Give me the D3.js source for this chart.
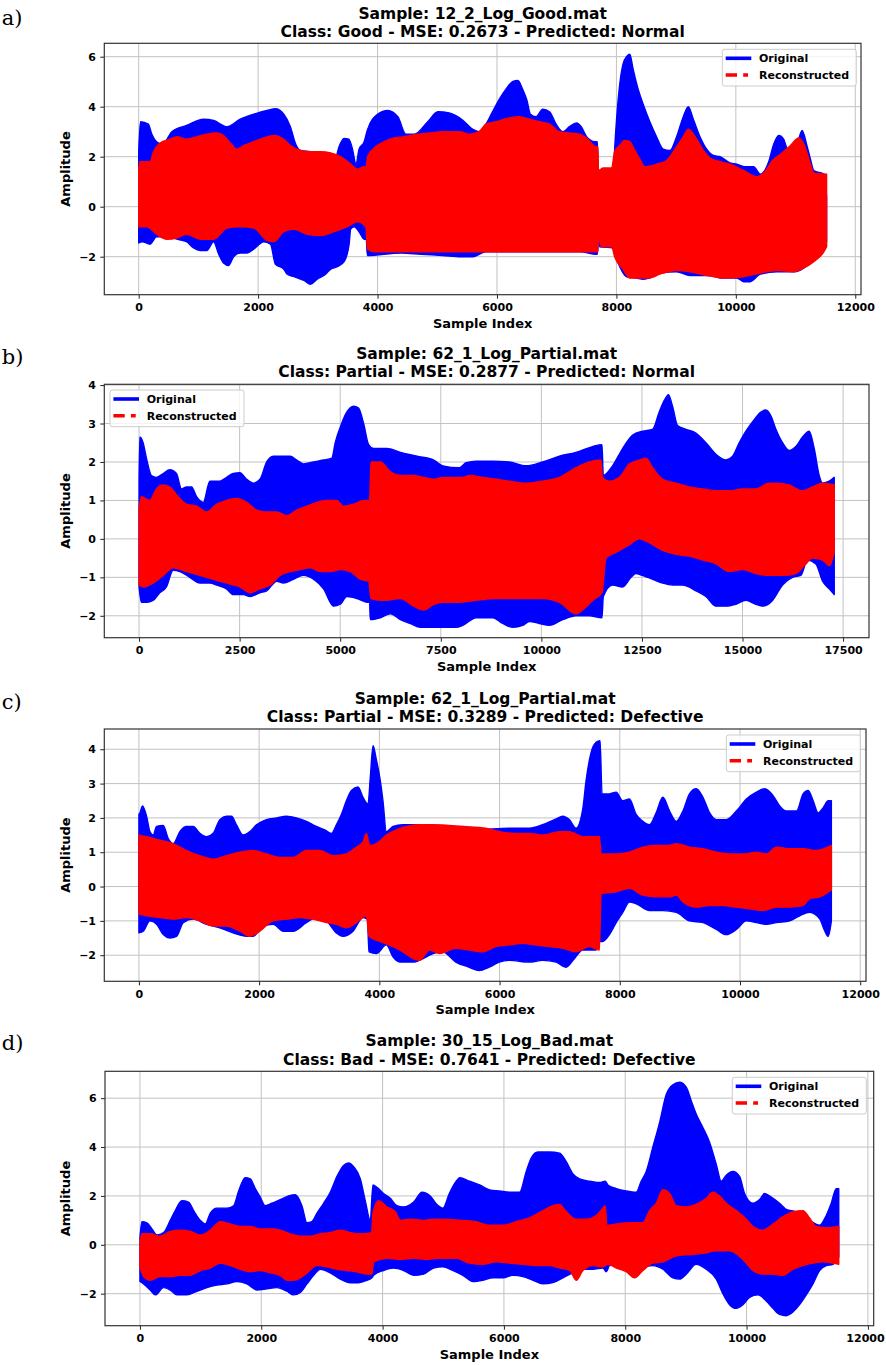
<!DOCTYPE html>
<html><head><meta charset="utf-8">
<script src="https://cdn.jsdelivr.net/npm/d3@7"></script>
<style>body{margin:0;background:#fff} svg text{font-family:'DejaVu Sans',sans-serif}</style>
</head><body><svg id="c" width="886" height="1365"></svg>
<script>
// ---------- DATA (envelopes: [sample index, amplitude]) ----------
const panelLabels = ['a)', 'b)', 'c)', 'd)'];
const titleLine1 = ['Sample: 12_2_Log_Good.mat', 'Sample: 62_1_Log_Partial.mat', 'Sample: 62_1_Log_Partial.mat', 'Sample: 30_15_Log_Bad.mat'];
const titleLine2 = ['Class: Good - MSE: 0.2673 - Predicted: Normal', 'Class: Partial - MSE: 0.2877 - Predicted: Normal', 'Class: Partial - MSE: 0.3289 - Predicted: Defective', 'Class: Bad - MSE: 0.7641 - Predicted: Defective'];
const seriesNames = ['Original', 'Reconstructed'];
const xTicks12k = [0, 2000, 4000, 6000, 8000, 10000, 12000];
const xTicks17k = [0, 2500, 5000, 7500, 10000, 12500, 15000, 17500];
const yTicksEven = [-2, 0, 2, 4, 6];
const yTicksUnit = [-2, -1, 0, 1, 2, 3, 4];

const aOrigHi = [[0,2.2],[30,3.4],[160,3.3],[220,2.9],[300,2.6],[400,2.5],[555,3.0],[800,3.25],[1090,3.5],[1255,3.45],[1480,3.2],[1700,3.5],[1930,3.7],[2150,3.85],[2290,3.92],[2430,3.7],[2540,3.2],[2630,2.5],[2710,2.25],[2900,2.2],[3100,2.15],[3300,2.0],[3355,2.4],[3440,2.73],[3520,2.7],[3580,2.3],[3640,1.7],[3690,2.3],[3776,2.6],[3830,3.07],[4000,3.7],[4170,3.85],[4340,3.6],[4475,2.9],[4616,2.9],[4840,3.4],[5010,3.8],[5200,3.75],[5423,3.47],[5590,3.1],[5700,3.0],[5815,3.3],[5927,3.8],[6040,4.3],[6150,4.7],[6260,5.0],[6350,5.05],[6430,4.7],[6500,4.27],[6560,3.7],[6655,3.6],[6767,3.9],[6880,3.8],[6990,3.3],[7100,3.0],[7215,3.2],[7330,3.35],[7410,3.2],[7500,2.8],[7640,2.6],[7680,2.6],[7700,1.4],[7950,1.45],[7975,2.5],[8056,4.9],[8110,5.7],[8170,6.0],[8224,6.1],[8280,5.5],[8364,4.7],[8448,4.1],[8560,3.4],[8672,2.8],[8784,2.3],[8896,2.25],[9008,2.8],[9120,3.6],[9204,4.0],[9288,3.5],[9400,2.8],[9512,2.3],[9625,2.05],[9737,2.0],[9905,1.75],[10017,1.7],[10157,1.6],[10297,1.6],[10410,1.3],[10550,1.8],[10634,2.5],[10720,2.85],[10800,2.7],[10886,2.2],[11025,2.5],[11110,3.05],[11195,2.4],[11250,1.9],[11305,1.45],[11480,1.3],[11520,0.4]];
const aOrigLo = [[0,-1.45],[60,-1.4],[190,-1.5],[300,-1.2],[527,-1.2],[640,-1.3],[800,-1.4],[920,-1.65],[1030,-1.75],[1140,-1.75],[1255,-1.4],[1340,-1.9],[1420,-2.25],[1507,-2.35],[1590,-2.0],[1700,-1.85],[1815,-1.85],[1927,-1.7],[2095,-1.4],[2207,-1.5],[2290,-2.3],[2430,-2.5],[2487,-2.7],[2600,-2.8],[2767,-2.95],[2880,-3.1],[2990,-2.9],[3130,-2.7],[3215,-2.5],[3327,-2.4],[3440,-2.2],[3524,-1.5],[3550,-0.9],[3608,-0.8],[3690,-1.0],[3776,-1.3],[3810,-1.3],[3830,-1.95],[4390,-1.85],[4727,-1.9],[5087,-1.95],[5400,-2.0],[5600,-2.0],[5815,-1.8],[7400,-1.8],[7660,-1.9],[7680,-1.9],[7700,-1.2],[7720,-1.6],[7945,-1.65],[7990,-2.0],[8056,-2.4],[8170,-2.8],[8335,-2.85],[8448,-2.9],[8560,-2.85],[8728,-2.65],[9008,-2.6],[9232,-2.75],[9568,-2.75],[9737,-2.85],[10017,-2.85],[10130,-3.0],[10240,-3.0],[10410,-2.7],[10690,-2.6],[10970,-2.6],[11140,-2.45],[11250,-2.2],[11420,-1.9],[11520,-1.4]];
const aRecHi = [[0,1.5],[20,1.8],[190,1.8],[246,2.2],[358,2.55],[527,2.7],[640,2.8],[800,2.7],[975,2.8],[1140,2.9],[1310,2.95],[1420,2.85],[1535,2.55],[1647,2.3],[1760,2.45],[1927,2.6],[2095,2.75],[2263,2.85],[2430,2.7],[2543,2.45],[2711,2.25],[2880,2.2],[3047,2.2],[3215,2.15],[3383,2.0],[3552,1.7],[3664,1.5],[3776,1.6],[3810,1.6],[3832,2.0],[3944,2.35],[4112,2.6],[4280,2.75],[4448,2.8],[4672,2.9],[4896,2.95],[5064,3.0],[5370,3.0],[5540,2.9],[5700,3.0],[5815,3.3],[5983,3.4],[6207,3.55],[6375,3.6],[6543,3.5],[6711,3.4],[6880,3.3],[7048,3.0],[7215,2.95],[7384,2.9],[7496,2.75],[7664,2.4],[7690,2.4],[7700,1.45],[7780,1.55],[7920,1.55],[7970,2.2],[8056,2.45],[8140,2.65],[8224,2.6],[8308,2.25],[8392,1.9],[8476,1.6],[8672,1.7],[8840,1.85],[9008,2.4],[9120,2.8],[9204,3.1],[9344,2.7],[9456,2.25],[9568,1.95],[9737,1.8],[9905,1.7],[10130,1.45],[10354,1.2],[10466,1.35],[10634,1.9],[10746,2.1],[10914,2.45],[11053,2.75],[11140,2.5],[11250,1.7],[11305,1.35],[11520,1.3]];
const aRecLo = [[0,-0.8],[134,-0.8],[300,-1.1],[470,-1.3],[640,-1.25],[800,-1.1],[1030,-1.3],[1255,-1.3],[1480,-0.85],[1700,-0.8],[1927,-0.85],[2150,-1.35],[2263,-1.4],[2430,-1.0],[2600,-0.9],[2823,-1.1],[3047,-1.15],[3272,-1.0],[3496,-0.8],[3664,-0.6],[3804,-0.8],[3832,-1.7],[3944,-1.8],[7660,-1.8],[7690,-1.8],[7700,-1.2],[7750,-1.6],[7920,-1.6],[7970,-2.0],[8110,-2.5],[8224,-2.85],[8560,-2.85],[8728,-2.7],[9008,-2.55],[9232,-2.6],[9512,-2.75],[9792,-2.85],[10130,-2.8],[10410,-2.65],[10690,-2.55],[10970,-2.6],[11140,-2.45],[11305,-2.2],[11475,-1.8],[11520,-1.6]];

const bOrigHi = [[0,1.5],[20,2.65],[100,2.5],[183,2.1],[307,1.65],[432,1.6],[598,1.7],[764,1.8],[930,1.7],[1055,1.3],[1180,1.35],[1304,1.35],[1430,1.1],[1595,0.95],[1760,1.5],[2010,1.5],[2176,1.6],[2342,1.7],[2508,1.72],[2675,1.55],[2840,1.45],[3006,1.55],[3173,2.0],[3339,2.15],[3588,2.15],[3754,2.15],[3920,2.05],[4087,1.95],[4336,2.0],[4585,2.05],[4792,2.1],[4876,2.5],[5000,2.9],[5166,3.3],[5332,3.45],[5457,3.4],[5582,3.0],[5706,2.45],[5830,2.35],[6163,2.35],[6495,2.25],[6911,2.15],[7326,2.05],[7550,1.9],[7960,1.85],[8130,1.98],[8380,2.02],[8790,2.02],[9200,2.0],[9620,1.9],[10030,2.0],[10447,2.15],[10860,2.25],[11275,2.4],[11507,2.45],[11540,1.65],[11770,1.9],[12020,2.35],[12270,2.7],[12520,2.8],[12765,2.85],[12930,3.3],[13055,3.6],[13160,3.75],[13260,3.45],[13386,2.95],[13593,2.85],[13840,2.75],[14090,2.5],[14340,2.2],[14587,2.05],[14753,2.15],[14918,2.5],[15084,2.8],[15290,3.1],[15456,3.3],[15580,3.35],[15705,3.2],[15830,2.85],[15995,2.5],[16160,2.3],[16326,2.4],[16492,2.65],[16657,2.8],[16782,2.35],[16906,1.65],[16990,1.45],[17156,1.5],[17280,1.6]];
const bOrigLo = [[0,-1.25],[58,-1.65],[183,-1.65],[349,-1.6],[515,-1.4],[681,-1.25],[847,-0.82],[1013,-0.85],[1262,-1.0],[1512,-1.15],[1760,-1.15],[1927,-1.2],[2176,-1.3],[2342,-1.45],[2591,-1.45],[2757,-1.5],[3007,-1.4],[3173,-1.35],[3422,-1.1],[3588,-1.15],[3837,-1.05],[4087,-0.95],[4336,-1.05],[4585,-1.3],[4834,-1.75],[5000,-1.7],[5166,-1.5],[5415,-1.55],[5665,-1.65],[5730,-1.65],[5748,-2.1],[5997,-2.05],[6246,-1.95],[6495,-2.1],[6745,-2.2],[6994,-2.3],[7880,-2.3],[8046,-2.25],[8380,-2.05],[8790,-2.05],[9040,-2.2],[9290,-2.3],[9536,-2.25],[9700,-2.15],[9950,-2.2],[10200,-2.25],[10530,-2.1],[10860,-2.0],[11190,-2.0],[11507,-2.05],[11540,-1.5],[11770,-1.2],[12020,-1.25],[12230,-1.0],[12350,-0.9],[12500,-0.95],[12765,-1.05],[13015,-1.15],[13264,-1.2],[13510,-1.2],[13842,-1.35],[14090,-1.5],[14340,-1.75],[14587,-1.75],[14835,-1.7],[15084,-1.6],[15330,-1.7],[15500,-1.75],[15746,-1.6],[15995,-1.2],[16243,-1.0],[16450,-0.95],[16616,-0.55],[16823,-0.65],[16990,-1.1],[17156,-1.3],[17280,-1.45]];
const bRecHi = [[0,0.8],[58,1.1],[266,1.0],[432,1.3],[598,1.4],[764,1.35],[930,1.15],[1180,0.9],[1430,0.85],[1677,0.7],[1927,0.9],[2176,1.0],[2425,1.05],[2675,0.95],[2924,0.75],[3173,0.7],[3422,0.7],[3671,0.6],[3920,0.75],[4170,0.85],[4420,0.95],[4668,1.0],[4917,1.0],[5083,0.85],[5332,0.9],[5582,1.0],[5730,1.0],[5765,2.0],[5997,2.0],[6246,1.75],[6495,1.65],[6827,1.65],[7077,1.6],[7326,1.55],[7550,1.6],[8046,1.6],[8212,1.65],[8543,1.6],[8874,1.55],[9205,1.5],[9620,1.45],[10030,1.5],[10447,1.6],[10860,1.85],[11190,2.0],[11480,2.05],[11520,1.6],[11690,1.5],[11940,1.6],[12190,1.95],[12435,2.05],[12600,2.1],[12765,1.85],[13015,1.55],[13345,1.45],[13676,1.35],[14007,1.3],[14340,1.25],[14670,1.25],[15000,1.3],[15330,1.3],[15660,1.45],[15830,1.45],[16160,1.4],[16492,1.25],[16740,1.35],[16990,1.45],[17280,1.4]];
const bRecLo = [[0,-1.2],[100,-1.25],[349,-1.15],[598,-0.95],[847,-0.75],[1180,-0.85],[1512,-0.95],[1844,-1.05],[2176,-1.15],[2508,-1.25],[2757,-1.4],[3007,-1.3],[3256,-1.2],[3505,-0.95],[3754,-0.85],[4004,-0.8],[4253,-0.75],[4502,-0.85],[4751,-0.85],[5000,-0.8],[5250,-0.85],[5500,-1.05],[5706,-1.1],[5765,-1.55],[6080,-1.6],[6495,-1.55],[6827,-1.75],[7077,-1.85],[7326,-1.7],[7550,-1.65],[7960,-1.65],[8380,-1.6],[8790,-1.55],[9620,-1.55],[10030,-1.55],[10447,-1.65],[10860,-1.95],[11025,-1.85],[11275,-1.6],[11507,-1.4],[11606,-0.5],[11855,-0.35],[12190,-0.15],[12435,0.0],[12680,-0.1],[13015,-0.3],[13345,-0.4],[13676,-0.45],[14007,-0.55],[14340,-0.65],[14670,-0.85],[15000,-0.8],[15330,-0.9],[15660,-0.95],[15995,-0.95],[16326,-0.9],[16575,-0.65],[16740,-0.5],[16990,-0.55],[17156,-0.7],[17280,-0.35]];

const cOrigHi = [[0,2.1],[17,2.15],[60,2.35],[127,2.05],[183,1.6],[238,1.5],[294,1.75],[404,1.78],[488,1.4],[570,1.25],[681,1.6],[792,1.75],[903,1.75],[1014,1.55],[1125,1.45],[1235,1.55],[1346,1.95],[1457,2.05],[1540,2.05],[1623,1.8],[1734,1.5],[1845,1.6],[1956,1.8],[2122,1.95],[2288,2.0],[2454,2.05],[2620,2.0],[2786,1.9],[2953,1.75],[3091,1.65],[3202,1.55],[3285,1.8],[3368,2.1],[3451,2.5],[3535,2.8],[3645,2.9],[3728,2.6],[3811,2.4],[3850,3.2],[3895,4.1],[3950,3.7],[4005,3.2],[4060,2.5],[4116,1.6],[4227,1.75],[4393,1.8],[4726,1.8],[4892,1.75],[5050,1.7],[5605,1.65],[6160,1.7],[6495,1.7],[6717,1.8],[6940,1.97],[7050,2.05],[7160,1.95],[7272,1.7],[7383,2.25],[7440,3.1],[7522,3.9],[7606,4.2],[7672,4.25],[7705,2.7],[7828,2.7],[7940,2.75],[8050,2.5],[8160,2.55],[8272,2.1],[8383,1.9],[8494,1.8],[8605,2.15],[8717,2.6],[8828,2.2],[8940,1.9],[9050,2.2],[9160,2.7],[9272,2.85],[9383,2.6],[9495,2.15],[9606,1.95],[9772,1.95],[9940,2.2],[10106,2.55],[10272,2.75],[10412,2.85],[10550,2.65],[10660,2.35],[10772,2.2],[10940,2.2],[11050,2.7],[11134,2.8],[11217,2.5],[11300,2.15],[11384,2.3],[11467,2.5],[11520,2.5]];
const cOrigLo = [[0,-1.35],[72,-1.3],[183,-1.0],[294,-1.1],[404,-1.4],[515,-1.5],[626,-1.45],[737,-1.05],[903,-0.95],[1125,-1.1],[1346,-1.2],[1568,-1.35],[1790,-1.45],[1900,-1.45],[2066,-1.15],[2233,-1.1],[2400,-1.3],[2565,-1.3],[2786,-1.05],[2953,-0.9],[3119,-1.0],[3285,-1.35],[3396,-1.45],[3562,-1.3],[3728,-0.9],[3800,-0.95],[3828,-1.9],[3950,-1.95],[4116,-1.7],[4227,-2.05],[4338,-2.2],[4560,-2.2],[4781,-2.05],[4892,-1.95],[5050,-1.9],[5272,-2.2],[5494,-2.35],[5660,-2.45],[5828,-2.35],[5994,-2.2],[6160,-2.15],[6495,-2.2],[6717,-2.15],[6940,-2.2],[7105,-2.35],[7244,-2.1],[7383,-1.85],[7606,-1.85],[7660,-1.6],[7717,-1.6],[7828,-1.4],[7940,-1.05],[8050,-0.75],[8160,-0.45],[8272,-0.5],[8494,-0.7],[8717,-0.7],[8940,-0.75],[9160,-1.0],[9383,-1.05],[9606,-1.25],[9772,-1.4],[9940,-1.25],[10106,-1.0],[10272,-1.05],[10440,-1.1],[10605,-1.05],[10828,-1.0],[10995,-0.85],[11160,-0.75],[11328,-0.95],[11412,-1.3],[11467,-1.45],[11520,-1.0]];
const cRecHi = [[0,1.5],[127,1.45],[349,1.35],[570,1.25],[792,1.05],[1014,0.9],[1235,0.8],[1457,0.9],[1679,1.0],[1900,1.05],[2122,0.95],[2343,0.85],[2565,0.85],[2786,1.05],[3008,1.05],[3230,0.9],[3451,0.95],[3618,1.15],[3728,1.3],[3784,1.55],[3840,1.2],[3950,1.25],[4116,1.5],[4282,1.65],[4449,1.75],[4670,1.8],[4892,1.8],[5400,1.75],[5772,1.7],[5994,1.6],[6272,1.55],[6495,1.55],[6717,1.5],[6995,1.6],[7160,1.6],[7383,1.45],[7660,1.45],[7690,0.95],[7940,0.95],[8160,1.0],[8383,1.15],[8605,1.2],[8828,1.2],[8940,1.25],[9160,1.15],[9383,1.1],[9606,1.0],[9828,0.95],[10050,0.95],[10272,1.0],[10440,0.95],[10605,1.15],[10828,1.1],[11050,1.1],[11272,1.05],[11520,1.2]];
const cRecLo = [[0,-0.8],[127,-0.85],[349,-0.9],[570,-0.95],[792,-0.9],[1014,-1.0],[1235,-1.15],[1457,-1.15],[1679,-1.3],[1845,-1.45],[2011,-1.3],[2233,-1.0],[2454,-0.95],[2675,-0.9],[2897,-0.95],[3119,-1.05],[3285,-1.1],[3451,-1.2],[3618,-1.05],[3784,-0.85],[3828,-1.45],[4005,-1.6],[4227,-1.75],[4393,-1.9],[4560,-2.1],[4670,-2.15],[4836,-1.85],[5003,-1.95],[5272,-1.8],[5494,-1.85],[5716,-1.9],[5939,-1.75],[6160,-1.7],[6383,-1.65],[6605,-1.7],[6828,-1.75],[7050,-1.8],[7272,-1.9],[7494,-1.75],[7660,-1.85],[7690,-0.2],[7940,-0.15],[8160,-0.05],[8383,-0.25],[8605,-0.3],[8828,-0.3],[8940,-0.25],[9050,-0.45],[9272,-0.6],[9495,-0.55],[9716,-0.55],[9940,-0.6],[10160,-0.65],[10383,-0.7],[10605,-0.6],[10828,-0.6],[11050,-0.55],[11160,-0.35],[11328,-0.3],[11520,-0.1]];

const dOrigHi = [[0,0.3],[33,0.95],[115,0.9],[198,0.65],[280,0.4],[390,0.5],[500,1.0],[582,1.4],[692,1.8],[802,1.75],[885,1.4],[995,1.0],[1077,0.85],[1160,1.3],[1270,1.5],[1434,1.5],[1544,1.6],[1627,2.2],[1736,2.75],[1819,2.7],[1901,2.3],[1984,1.95],[2066,1.6],[2176,1.7],[2313,1.85],[2450,2.0],[2560,2.05],[2670,1.6],[2753,0.9],[2835,0.95],[2918,1.3],[3028,1.7],[3138,2.15],[3248,2.8],[3357,3.25],[3440,3.35],[3522,3.2],[3632,2.7],[3715,1.8],[3797,1.0],[3841,2.45],[3907,2.35],[4017,2.1],[4127,1.9],[4237,1.6],[4347,1.55],[4512,1.75],[4649,2.15],[4786,2.0],[4896,1.65],[4994,1.5],[5100,2.1],[5214,2.6],[5270,2.75],[5434,2.6],[5600,2.45],[5764,2.25],[5929,2.2],[6093,2.15],[6258,2.15],[6368,3.0],[6450,3.55],[6560,3.8],[6753,3.8],[6918,3.75],[7028,3.4],[7138,2.9],[7248,2.7],[7412,2.6],[7577,2.55],[7670,2.6],[7714,2.45],[7852,2.3],[8016,2.2],[8180,2.15],[8263,2.6],[8346,3.0],[8456,4.0],[8566,5.0],[8676,6.15],[8786,6.55],[8896,6.65],[9006,6.45],[9088,5.9],[9170,5.35],[9280,4.8],[9390,4.2],[9500,3.3],[9583,2.6],[9665,2.85],[9775,3.0],[9885,2.8],[9967,2.1],[10105,1.7],[10215,1.85],[10297,2.1],[10407,1.95],[10544,1.7],[10654,1.45],[10820,1.35],[11039,1.0],[11204,0.8],[11314,1.2],[11396,1.7],[11478,2.3],[11520,2.3]];
const dOrigLo = [[0,-1.5],[60,-1.6],[170,-1.85],[253,-2.05],[390,-1.75],[500,-1.85],[610,-2.05],[775,-2.05],[940,-1.9],[1105,-1.75],[1270,-1.65],[1434,-1.6],[1600,-1.5],[1764,-1.6],[1930,-1.85],[2094,-1.8],[2258,-1.75],[2423,-1.9],[2533,-2.05],[2643,-1.95],[2753,-1.6],[2863,-1.25],[2973,-1.0],[3138,-1.15],[3302,-1.4],[3467,-1.55],[3605,-1.55],[3742,-1.45],[3825,-1.35],[3852,-1.25],[4017,-1.05],[4182,-0.95],[4347,-1.05],[4512,-1.25],[4676,-1.2],[4841,-0.95],[4994,-0.9],[5154,-1.05],[5324,-1.25],[5489,-1.5],[5654,-1.45],[5819,-1.35],[5984,-1.35],[6148,-1.25],[6313,-1.3],[6478,-1.45],[6643,-1.6],[6808,-1.55],[6972,-1.35],[7137,-1.15],[7302,-1.0],[7467,-1.0],[7632,-0.95],[7687,-1.1],[7742,-0.85],[7907,-0.8],[8072,-1.0],[8182,-1.3],[8291,-0.95],[8456,-0.85],[8621,-1.0],[8786,-1.35],[8896,-1.4],[9006,-1.2],[9170,-0.8],[9335,-1.0],[9500,-1.4],[9610,-2.0],[9720,-2.45],[9830,-2.6],[9940,-2.45],[10050,-2.15],[10187,-2.05],[10325,-2.3],[10435,-2.6],[10544,-2.85],[10654,-2.9],[10764,-2.75],[10874,-2.45],[10984,-2.05],[11094,-1.6],[11204,-1.05],[11314,-0.85],[11424,-0.8],[11520,-0.5]];
const dRecHi = [[0,0.1],[33,0.45],[170,0.45],[335,0.35],[500,0.55],[665,0.6],[830,0.55],[995,0.4],[1160,0.6],[1324,0.95],[1489,0.85],[1654,0.75],[1819,0.75],[1984,0.65],[2150,0.65],[2313,0.6],[2478,0.45],[2643,0.35],[2808,0.35],[2973,0.45],[3138,0.5],[3302,0.6],[3467,0.5],[3632,0.45],[3820,0.5],[3841,1.3],[3934,1.8],[4072,1.55],[4210,1.35],[4292,1.0],[4457,1.05],[4676,1.0],[4841,1.05],[5324,1.0],[5539,0.95],[5764,0.8],[5984,0.8],[6203,0.95],[6423,1.1],[6643,1.4],[6808,1.6],[6918,1.65],[7028,1.35],[7192,1.05],[7357,1.05],[7522,1.2],[7632,1.5],[7670,1.6],[7698,0.8],[7852,0.85],[8072,0.9],[8291,0.9],[8400,1.4],[8511,1.7],[8621,2.25],[8731,2.1],[8841,1.6],[9006,1.55],[9170,1.65],[9335,1.9],[9445,2.15],[9555,2.0],[9665,1.7],[9830,1.4],[9995,1.05],[10105,0.75],[10270,0.6],[10435,0.85],[10600,1.15],[10764,1.35],[10929,1.4],[11039,1.1],[11149,0.75],[11314,0.7],[11520,0.75]];
const dRecLo = [[0,-0.9],[60,-1.3],[170,-1.45],[335,-1.3],[500,-1.3],[665,-1.25],[830,-1.25],[995,-1.05],[1160,-0.95],[1324,-0.75],[1489,-0.85],[1654,-1.0],[1819,-1.1],[1984,-1.05],[2150,-1.15],[2313,-1.25],[2423,-1.45],[2533,-1.45],[2643,-1.35],[2753,-1.15],[2918,-0.85],[3083,-0.9],[3248,-1.0],[3412,-1.05],[3577,-1.1],[3742,-1.2],[3825,-1.2],[3852,-0.7],[4072,-0.55],[4292,-0.6],[4512,-0.55],[4731,-0.6],[4896,-0.55],[5214,-0.55],[5434,-0.75],[5654,-0.8],[5874,-0.7],[6093,-0.75],[6313,-0.8],[6533,-0.85],[6753,-0.85],[6918,-0.95],[7083,-1.05],[7192,-1.45],[7302,-1.05],[7467,-0.85],[7632,-0.9],[7714,-0.8],[7852,-0.95],[8016,-1.1],[8154,-1.35],[8291,-1.05],[8456,-0.75],[8621,-0.7],[8841,-0.45],[9061,-0.4],[9280,-0.35],[9500,-0.25],[9720,-0.25],[9940,-0.6],[10105,-1.05],[10270,-1.2],[10435,-1.2],[10600,-1.25],[10764,-1.0],[10929,-0.85],[11094,-0.75],[11259,-0.7],[11424,-0.75],[11520,-0.8]];

// ---------- LAYOUT ----------
const panels = [
  {l:104.3, r:861,   t:43.3,   b:294.7,  xd:[-576,12096], yd:[-3.52,6.536], xt:xTicks12k, yt:yTicksEven, lg:[722.3,49.3],  tb:37.3,   lb:25,   hi:[aOrigHi,aRecHi], lo:[aOrigLo,aRecLo]},
  {l:104.3, r:869,   t:384.3,  b:637.7,  xd:[-864,18144], yd:[-2.57,4.02],  xt:xTicks17k, yt:yTicksUnit, lg:[110,390],     tb:377.2,  lb:364,  hi:[bOrigHi,bRecHi], lo:[bOrigLo,bRecLo]},
  {l:104.3, r:866,   t:729,    b:981.3,  xd:[-576,12096], yd:[-2.76,4.59],  xt:xTicks12k, yt:yTicksUnit, lg:[726.3,735],   tb:722.2,  lb:709,  hi:[cOrigHi,cRecHi], lo:[cOrigLo,cRecLo]},
  {l:105,   r:873.7, t:1071.3, b:1325.7, xd:[-576,12096], yd:[-3.31,7.1],   xt:xTicks12k, yt:yTicksEven, lg:[732.3,1077.3],tb:1064.5, lb:1050, hi:[dOrigHi,dRecHi], lo:[dOrigLo,dRecLo]}
];
const colors = ['#0000ff', '#ff0000'];
const fmt = d => (d < 0 ? '\u2212' + Math.abs(d) : String(d));

const svg = d3.select('#c');
const defs = svg.append('defs');

panels.forEach((p, i) => {
  const x = d3.scaleLinear().domain(p.xd).range([p.l, p.r]);
  const y = d3.scaleLinear().domain(p.yd).range([p.b, p.t]);
  const g = svg.append('g');
  defs.append('clipPath').attr('id', 'clip' + i).append('rect')
    .attr('x', p.l).attr('y', p.t).attr('width', p.r - p.l).attr('height', p.b - p.t);

  // grid
  g.append('g').selectAll('line').data(p.xt).join('line')
    .attr('x1', d => x(d)).attr('x2', d => x(d)).attr('y1', p.t).attr('y2', p.b)
    .attr('stroke', '#c2c2c2').attr('stroke-width', 1);
  g.append('g').selectAll('line').data(p.yt).join('line')
    .attr('y1', d => y(d)).attr('y2', d => y(d)).attr('x1', p.l).attr('x2', p.r)
    .attr('stroke', '#c2c2c2').attr('stroke-width', 1);

  // signal bands (upper envelope forward, lower envelope back)
  const line = d3.line().x(d => x(d[0])).y(d => y(d[1])).curve(d3.curveMonotoneX);
  [0, 1].forEach(k => {
    const upper = line(p.hi[k]);
    const lower = line(p.lo[k].slice().reverse());
    g.append('path').attr('d', upper + 'L' + lower.slice(1) + 'Z')
      .attr('fill', colors[k]).attr('stroke', colors[k]).attr('stroke-width', 1.4)
      .attr('stroke-linejoin', 'round').attr('clip-path', `url(#clip${i})`);
  });

  // axes
  const xa = g.append('g').attr('transform', `translate(0,${p.b})`)
    .call(d3.axisBottom(x).tickValues(p.xt).tickSize(4).tickPadding(5).tickFormat(fmt));
  const ya = g.append('g').attr('transform', `translate(${p.l},0)`)
    .call(d3.axisLeft(y).tickValues(p.yt).tickSize(4).tickPadding(4.3).tickFormat(fmt));
  [xa, ya].forEach(a => {
    a.select('.domain').remove();
    a.selectAll('line').attr('stroke', '#222');
    a.selectAll('text').attr('font-size', 11).attr('font-weight', 'bold').attr('fill', '#000')
      .attr('font-family', 'DejaVu Sans');
  });
  // keep the last x label inside the page
  xa.selectAll('.tick text').filter(d => x(d) + 19 > 884).attr('dx', d => 884 - (x(d) + 19));
  g.append('rect').attr('x', p.l).attr('y', p.t).attr('width', p.r - p.l).attr('height', p.b - p.t)
    .attr('fill', 'none').attr('stroke', '#333').attr('stroke-width', 1.2);

  // axis labels
  const cx = (p.l + p.r) / 2;
  g.append('text').attr('x', cx).attr('y', p.b + 33).attr('text-anchor', 'middle')
    .attr('font-size', 13).attr('font-weight', 'bold').text('Sample Index');
  g.append('text').attr('transform', `translate(70,${(p.t + p.b) / 2}) rotate(-90)`)
    .attr('text-anchor', 'middle').attr('font-size', 13).attr('font-weight', 'bold').text('Amplitude');

  // titles
  g.append('text').attr('x', cx).attr('y', p.tb - 18.4).attr('text-anchor', 'middle')
    .attr('font-size', 15.5).attr('font-weight', 'bold').text(titleLine1[i]);
  g.append('text').attr('x', cx).attr('y', p.tb).attr('text-anchor', 'middle')
    .attr('font-size', 15.5).attr('font-weight', 'bold').text(titleLine2[i]);

  // panel letter
  g.append('text').attr('x', 1.7).attr('y', p.lb)
    .attr('style', "font-family:'DejaVu Serif',serif").attr('font-size', 21).text(panelLabels[i]);

  // legend
  const [lx, ly] = p.lg;
  const lgG = g.append('g');
  lgG.append('rect').attr('x', lx).attr('y', ly).attr('width', 134).attr('height', 36.7).attr('rx', 2.5)
    .attr('fill', '#fff').attr('fill-opacity', 0.8).attr('stroke', '#cccccc').attr('stroke-width', 1);
  seriesNames.forEach((name, k) => {
    const ry = ly + 9 + k * 16.7;
    lgG.append('line').attr('x1', lx + 3.4).attr('x2', lx + 29).attr('y1', ry).attr('y2', ry)
      .attr('stroke', colors[k]).attr('stroke-width', 3.6)
      .attr('stroke-dasharray', k === 1 ? '11.3,6.2,4.8,100' : null);
    lgG.append('text').attr('x', lx + 36.7).attr('y', ry + 4).attr('font-size', 11)
      .attr('font-weight', 'bold').text(name);
  });
});
</script></body></html>
